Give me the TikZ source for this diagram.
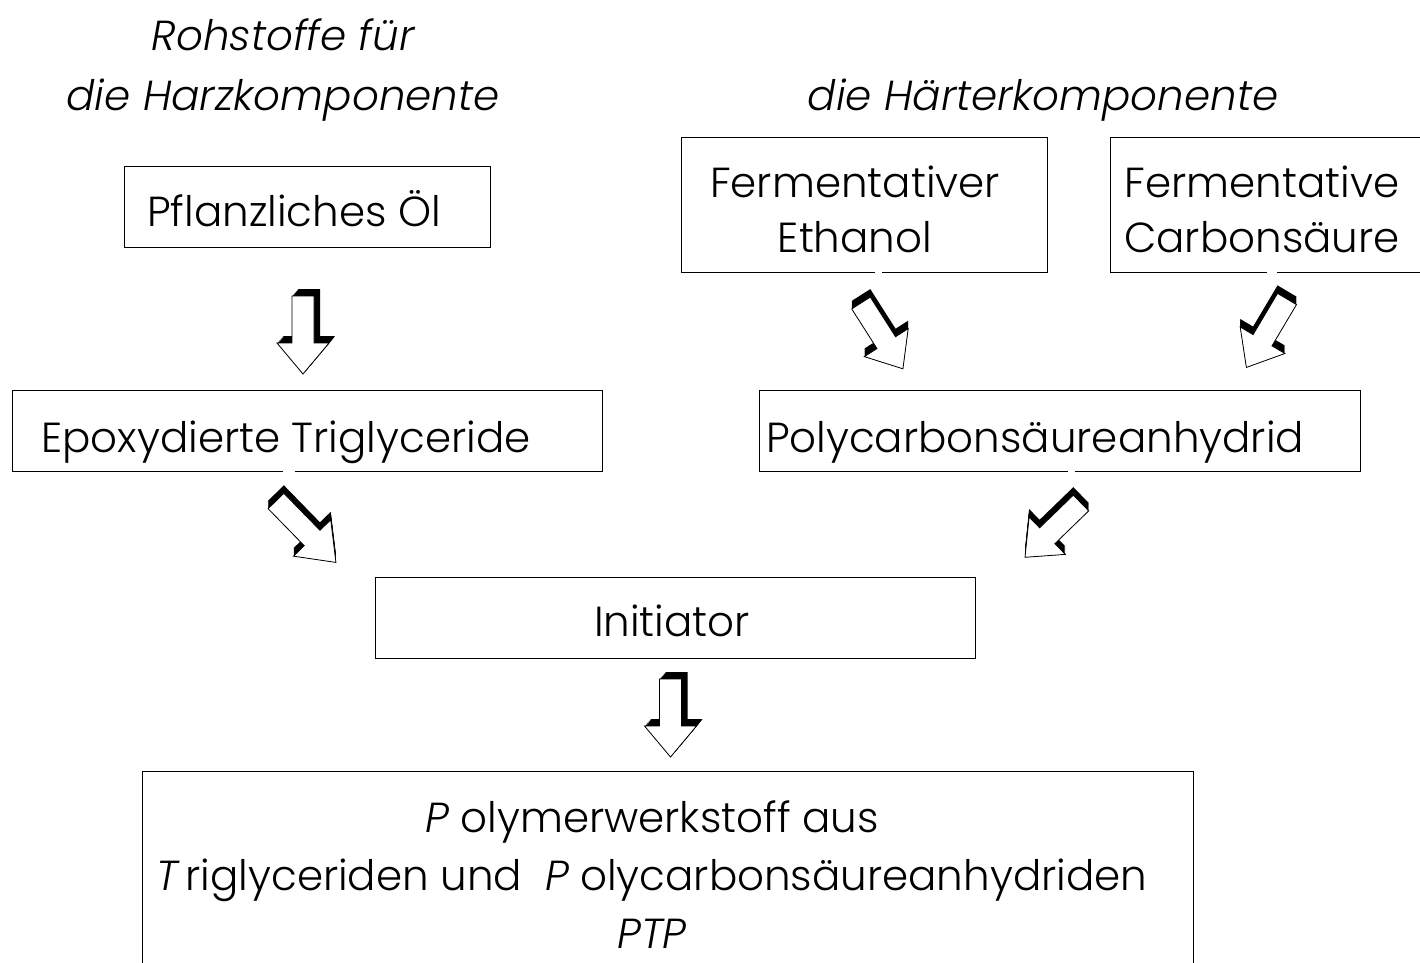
\documentclass[tikz,border=0pt]{standalone}
\usepackage{fontspec}
\IfFontExistsTF{Poppins Light}{\setmainfont{Poppins Light}}{\setmainfont{Poppins}}

\tikzset{
  box/.style={draw, line width=1.2pt, anchor=north west, inner sep=0pt},
  txt/.style={anchor=base, inner sep=0pt, align=center, font=\fontsize{42}{55}\selectfont},
  headtxt/.style={txt, font=\fontsize{42}{60}\selectfont\itshape},
  arrowshape/.style={insert path={(0,-11) -- (47,-11) -- (47,-26) -- (78,0) -- (47,26) -- (47,11) -- (0,11) -- cycle}},
  arrowface/.style={fill=white, draw=black, line width=0.8pt},
  gap/.style={fill=white}
}
% tail, angle, length factor, shadow x, shadow y
\newcommand\blockarrow[5]{%
  \foreach \s in {0,0.125,...,1}
    \fill[shift={#1}, shift={(\s*#4,\s*#5)}, rotate=#2, xscale=#3, arrowshape];
  \path[arrowface, shift={#1}, rotate=#2, xscale=#3, arrowshape];
}

\begin{document}
\begin{tikzpicture}[x=1pt, y=-1pt]
  \useasboundingbox (0,0) rectangle (1420,962);
  % headings
  \node[headtxt] (harz) at (283,110) {Rohstoffe für\\die Harzkomponente};
  \node[headtxt] (haerter) at (1043,110) {die Härterkomponente};
  % boxes
  \node[box, minimum width=366pt, minimum height=81pt] (oel) at (124,166) {};
  \node[box, minimum width=366pt, minimum height=135pt] (ethanol) at (681,137) {};
  \node[box, minimum width=366pt, minimum height=135pt] (carbon) at (1110,137) {};
  \node[box, minimum width=590pt, minimum height=81pt] (epoxy) at (12,390) {};
  \node[box, minimum width=601pt, minimum height=81pt] (polyanh) at (759,390) {};
  \node[box, minimum width=600pt, minimum height=81pt] (init) at (375,577) {};
  \node[box, minimum width=1051pt, minimum height=260pt] (ptp) at (142,771) {};
  % gaps in the borders
  \fill[gap] (875,268) rectangle (882,276);
  \fill[gap] (1267,268) rectangle (1277,276);
  \fill[gap] (283,467) rectangle (295,475);
  \fill[gap] (1068,467) rectangle (1075,475);
  % texts
  \node[txt] (oeltxt) at (294,226) {Pflanzliches Öl};
  \node[txt] (ethanoltxt) at (855,252) {Fermentativer\\Ethanol};
  \node[txt] (carbontxt) at (1262,252) {Fermentative\\Carbonsäure};
  \node[txt] (epoxytxt) at (286,452) {Epoxydierte Triglyceride};
  \node[txt] (polyanhtxt) at (1035,452) {Polycarbonsäureanhydrid};
  \node[txt] (inittxt) at (672,636) {Initiator};
  \node[txt, font=\fontsize{42}{58}\selectfont] (ptptxt) at (652,948)
    {{\itshape P} olymerwerkstoff aus\\
     {\itshape T}\,riglyceriden und\ \ {\itshape P} olycarbonsäureanhydriden\\
     {\itshape PTP}};
  % arrows
  \blockarrow{(303,296)}{-90}{1}{6}{-7}
  \blockarrow{(861,303)}{-57.5}{1}{0}{-8}
  \blockarrow{(1287,299)}{-120.7}{1.02}{0}{-8}
  \blockarrow{(276,501)}{-45.7}{1.1}{0}{-8}
  \blockarrow{(1081,503)}{-135.9}{1}{0}{-8}
  \blockarrow{(670.5,679)}{-90}{1}{6}{-7}
\end{tikzpicture}
\end{document}
